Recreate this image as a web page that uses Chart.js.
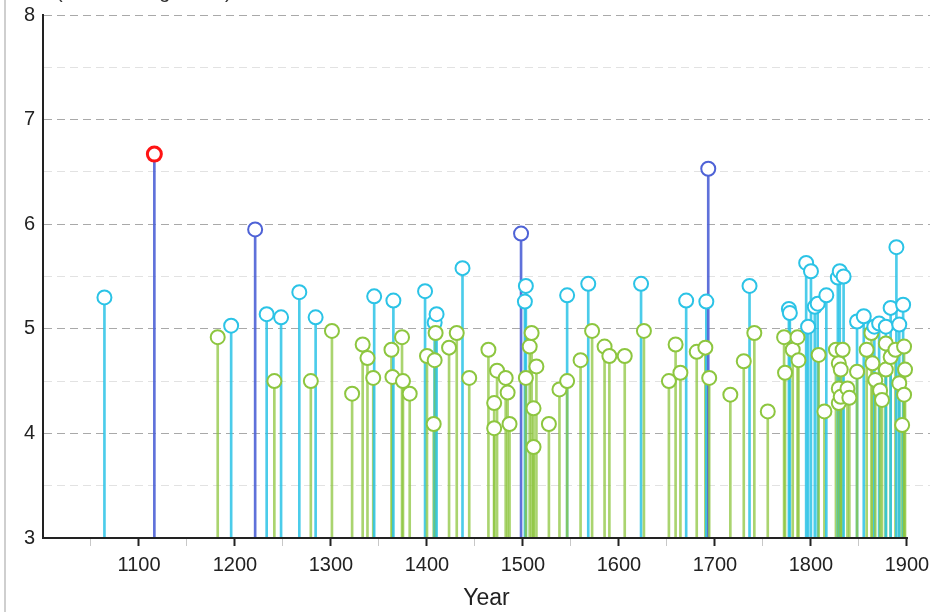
<!DOCTYPE html>
<html>
<head>
<meta charset="utf-8">
<script src="https://cdn.jsdelivr.net/npm/chart.js@4"></script>
<style>
  html, body { margin: 0; padding: 0; background: #fff; }
</style>
</head>
<body>
<canvas id="quakeChart" width="940" height="612"></canvas>
<script>
// event years and magnitudes
const years = [
  1064, 1116, 1182, 1196, 1221, 1233, 1241, 1248, 1267, 1279, 1284, 1301,
  1322, 1333, 1338, 1344, 1345, 1363, 1364, 1365, 1374, 1375, 1382, 1398,
  1400, 1407, 1408, 1408, 1409, 1410, 1423, 1431, 1437, 1444, 1464, 1470,
  1470, 1473, 1482, 1484, 1486, 1498, 1502, 1503, 1503, 1507, 1509, 1511,
  1511, 1514, 1527, 1538, 1546, 1546, 1560, 1568, 1572, 1585, 1590, 1606,
  1623, 1626, 1652, 1659, 1664, 1670, 1681, 1690, 1691, 1693, 1694, 1716,
  1730, 1736, 1741, 1755, 1772, 1773, 1777, 1778, 1781, 1786, 1787, 1795,
  1797, 1800, 1804, 1807, 1808, 1814, 1816, 1826, 1828, 1829, 1829, 1829,
  1830, 1831, 1831, 1833, 1834, 1838, 1840, 1848, 1848, 1855, 1858, 1863,
  1864, 1866, 1867, 1871, 1872, 1874, 1878, 1878, 1878, 1883, 1883, 1888,
  1889, 1892, 1892, 1895, 1896, 1897, 1897, 1898
];
const magnitudes = [
  5.30, 6.67, 4.92, 5.03, 5.95, 5.14, 4.50, 5.11, 5.35, 4.50, 5.11, 4.98,
  4.38, 4.85, 4.72, 4.53, 5.31, 4.80, 4.54, 5.27, 4.92, 4.50, 4.38, 5.36,
  4.74, 4.09, 4.70, 5.06, 4.96, 5.14, 4.82, 4.96, 5.58, 4.53, 4.80, 4.29,
  4.05, 4.60, 4.53, 4.39, 4.09, 5.91, 5.26, 5.41, 4.53, 4.83, 4.96, 4.24,
  3.87, 4.64, 4.09, 4.42, 5.32, 4.50, 4.70, 5.43, 4.98, 4.83, 4.74, 4.74,
  5.43, 4.98, 4.50, 4.85, 4.58, 5.27, 4.78, 4.82, 5.26, 6.53, 4.53, 4.37,
  4.69, 5.41, 4.96, 4.21, 4.92, 4.58, 5.19, 5.15, 4.80, 4.92, 4.70, 5.63,
  5.02, 5.55, 5.21, 5.24, 4.75, 4.21, 5.32, 4.80, 5.49, 4.67, 4.43, 4.29,
  5.55, 4.61, 4.35, 4.80, 5.50, 4.43, 4.34, 5.07, 4.59, 5.12, 4.80, 4.96,
  4.67, 5.02, 4.51, 5.05, 4.41, 4.32, 4.61, 4.86, 5.02, 4.73, 5.20, 4.80,
  5.78, 4.48, 5.04, 4.08, 5.23, 4.83, 4.37, 4.61
];
const yearTicks = [1100, 1200, 1300, 1400, 1500, 1600, 1700, 1800, 1900];
const magnitudeTicks = [3, 4, 5, 6, 7, 8];
const headingText = '(Richter magnitude)';

const GREEN = 'rgb(141,198,63)';
const CYAN = 'rgb(43,195,230)';
const BLUE = 'rgb(78,98,214)';
const RED = 'rgb(255,20,20)';
const FONT = '"Liberation Sans", Arial, sans-serif';

function markerColor(m) {
    if (m >= 6.6) return RED;
    if (m >= 5.9) return BLUE;
    if (m >= 5) return CYAN;
    return GREEN;
}

function stemColor(m) {
    if (m >= 5.9) return 'rgba(78,98,214,0.9)';
    if (m >= 5) return 'rgba(43,195,230,0.85)';
    return 'rgba(141,198,63,0.75)';
}

// gray frame on the left, x axis line from 1000 to 1900, clipped heading
const extras = {
    id: 'extras',
    beforeDraw(chart) {
        const ctx = chart.ctx;
        ctx.save();
        ctx.fillStyle = '#cfcfcf';
        ctx.fillRect(4, 0, 2, chart.height);
        ctx.restore();
    },
    afterDraw(chart) {
        const { ctx, chartArea } = chart;
        const x = chart.scales.x;
        ctx.save();
        ctx.strokeStyle = '#222';
        ctx.lineWidth = 2;
        ctx.beginPath();
        ctx.moveTo(x.getPixelForValue(1000) - 1, chartArea.bottom);
        ctx.lineTo(x.getPixelForValue(1900) + 1, chartArea.bottom);
        ctx.stroke();
        ctx.font = '20px ' + FONT;
        ctx.fillStyle = '#333';
        ctx.textBaseline = 'alphabetic';
        ctx.fillText(headingText, 56, -2);
        ctx.restore();
    }
};

const ctx = document.getElementById('quakeChart').getContext('2d');

new Chart(ctx, {
    type: 'bar',
    data: {
        datasets: [{
            type: 'bar',
            order: 2,
            data: years.map((yr, i) => ({ x: yr, y: [3, magnitudes[i]] })),
            backgroundColor: magnitudes.map(stemColor),
            barThickness: 2,
            grouped: false,
            borderWidth: 0
        }, {
            type: 'scatter',
            order: 1,
            data: years.map((yr, i) => ({ x: yr, y: magnitudes[i] })),
            pointRadius: 7,
            pointBorderWidth: magnitudes.map(m => m >= 6.6 ? 3 : 2),
            pointBorderColor: magnitudes.map(markerColor),
            pointBackgroundColor: '#fff'
        }]
    },
    options: {
        responsive: false,
        animation: false,
        events: [],
        layout: { padding: { top: 15, right: 3, left: 0, bottom: 0 } },
        plugins: {
            legend: { display: false },
            tooltip: { enabled: false }
        },
        scales: {
            x: {
                type: 'linear',
                min: 1000,
                max: 1924,
                offset: false,
                afterBuildTicks: s => { s.ticks = s.ticks.filter(t => t.value <= 1900); },
                afterFit: s => { s.height = 74; s.paddingLeft = 0; s.paddingRight = 0; },
                ticks: {
                    stepSize: 50,
                    includeBounds: false,
                    autoSkip: false,
                    maxRotation: 0,
                    padding: 7,
                    color: '#222',
                    font: { size: 20, family: FONT },
                    callback: v => yearTicks.includes(v) ? String(v) : ''
                },
                grid: {
                    offset: false,
                    drawOnChartArea: false,
                    drawTicks: true,
                    tickLength: 8,
                    tickColor: c => {
                        const v = c.tick ? c.tick.value : 0;
                        if (v <= 1000) return 'rgba(0,0,0,0)';
                        return yearTicks.includes(v) ? '#222' : '#c8c8c8';
                    },
                    tickWidth: c => (c.tick && yearTicks.includes(c.tick.value)) ? 2 : 1
                },
                border: { display: false },
                title: {
                    display: true,
                    text: 'Year',
                    color: '#222',
                    font: { size: 23, family: FONT },
                    padding: { top: 0, bottom: 0 }
                }
            },
            y: {
                min: 3,
                max: 8,
                afterFit: s => { s.width = 43; s.paddingTop = 0; s.paddingBottom = 0; },
                ticks: {
                    stepSize: 0.5,
                    padding: 8,
                    color: '#222',
                    font: { size: 20, family: FONT },
                    callback: v => magnitudeTicks.includes(v) ? String(v) : ''
                },
                grid: {
                    drawTicks: false,
                    lineWidth: 1,
                    color: c => {
                        const v = c.tick ? c.tick.value : 0;
                        if (v <= 3) return 'rgba(0,0,0,0)';
                        return Number.isInteger(v) ? '#a9a9a9' : '#e2e2e2';
                    }
                },
                border: { display: true, color: '#222', width: 2, dash: [8, 5] }
            }
        }
    },
    plugins: [extras]
});
</script>
</body>
</html>
